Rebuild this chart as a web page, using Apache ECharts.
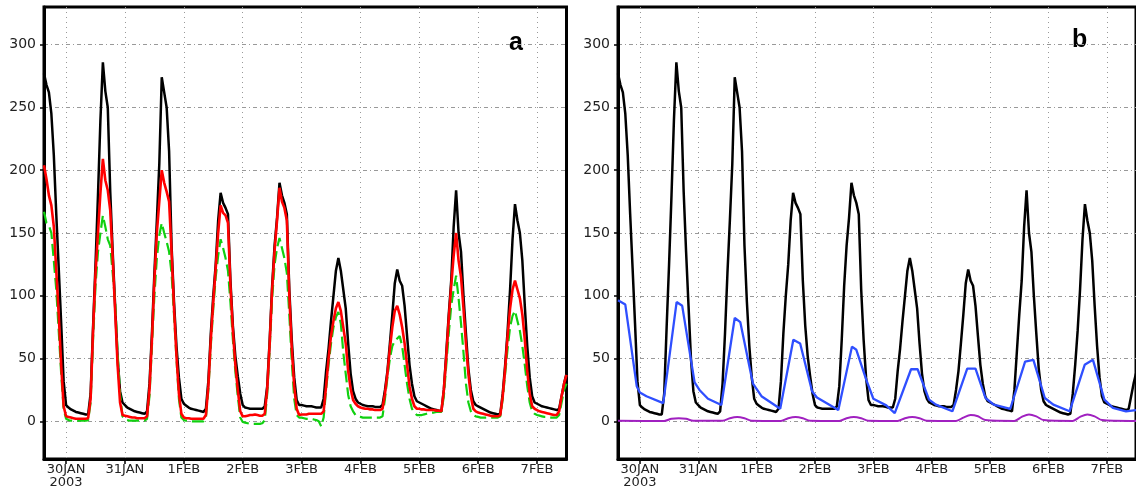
<!DOCTYPE html>
<html><head><meta charset="utf-8">
<script src="https://cdn.jsdelivr.net/npm/echarts@6/dist/echarts.min.js"></script>
<style>html,body{margin:0;padding:0;background:#fff}#c{width:1136px;height:489px}</style>
</head><body><div id="c"></div>
<script>
// hours since 30JAN2003 00:00 ; hourly samples from 29JAN 15:00 to 7FEB 12:00
const hourStart = -9, hourEnd = 204;
const tickHours = [0, 24, 48, 72, 96, 120, 144, 168, 192];
const dayLabels = ['30JAN\n2003', '31JAN', '1FEB', '2FEB', '3FEB', '4FEB', '5FEB', '6FEB', '7FEB'];
const yTicks = [0, 50, 100, 150, 200, 250, 300];

const blackVals = [
  277, 268, 262, 245, 212, 165, 122, 78, 32,
  13, 11, 9.5, 8.5, 7.5, 7, 6.5, 6, 5.5, 5.5, 22, 75, 125, 180, 240, 286, 263, 250, 183, 135, 92, 50, 24, 15,
  13, 11, 10, 9, 8, 7.5, 7, 6.5, 6, 8, 30, 70, 118, 160, 205, 274, 262, 250, 215, 140, 95, 60, 35, 18,
  14, 12.5, 11, 10, 9.5, 9, 8.5, 8, 7.5, 10, 32, 70, 100, 125, 160, 182, 174, 170, 165, 112, 76, 52, 36, 22,
  13, 11, 10.5, 10, 10, 10, 10, 10, 10, 12, 28, 65, 108, 140, 162, 190, 180, 174, 165, 105, 65, 35, 17, 13,
  13, 12.5, 12, 12, 12, 11.5, 11, 11, 11, 18, 40, 58, 80, 100, 120, 130, 120, 105, 90, 62, 38, 24, 18, 15,
  14, 13, 12.5, 12, 12, 12, 11.5, 11.5, 11.5, 13, 25, 40, 62, 85, 110, 121, 112, 108, 92, 68, 45, 30, 20, 16,
  15, 14, 13, 12, 11, 10, 9.5, 9, 8.5, 8, 25, 55, 85, 112, 155, 184, 150, 135, 100, 70, 42, 25, 16, 13,
  12, 11, 10, 9, 8, 7, 6.5, 6, 5.5, 6, 22, 45, 72, 105, 145, 173, 160, 150, 128, 92, 60, 35, 20, 15,
  14, 13, 12, 11.5, 11, 10.5, 10, 9.5, 9, 10, 20, 30, 38
];
const redVals = [
  204, 193, 180, 172, 155, 120, 85, 45, 12,
  4, 3.5, 3, 2.5, 2, 2, 2, 2, 2, 2.5, 18, 72, 118, 150, 182, 209, 192, 184, 168, 130, 88, 45, 15, 5,
  4.5, 4, 3.5, 3, 3, 2.5, 2.5, 2.5, 2.5, 4, 25, 65, 112, 150, 175, 200, 190, 183, 175, 135, 90, 52, 22, 6,
  3, 2.5, 2.5, 2, 2, 2, 2, 2, 2, 5, 28, 65, 95, 122, 150, 172, 166, 164, 158, 108, 72, 45, 25, 8,
  4, 4, 4.5, 5, 5, 5.5, 5, 4.5, 4.5, 6, 26, 62, 105, 136, 160, 186, 175, 170, 160, 100, 58, 28, 10, 5,
  5.5, 5.5, 5.5, 6, 6, 6, 6, 6, 6, 8, 28, 50, 68, 80, 90, 95, 88, 75, 62, 40, 26, 17, 14, 12,
  11, 10.5, 10, 10, 9.5, 9.5, 9, 9, 9, 10, 22, 38, 58, 75, 88, 92, 85, 75, 62, 45, 28, 18, 12, 10,
  10, 9.5, 9.5, 9, 9, 9, 9, 8.5, 8.5, 8, 25, 52, 82, 108, 132, 150, 128, 115, 90, 62, 38, 20, 10, 8,
  7, 6.5, 6, 5.5, 5, 4.5, 4, 4, 4, 5, 20, 42, 68, 90, 105, 112, 105, 98, 85, 65, 40, 22, 12, 10,
  9, 8, 7.5, 7, 6.5, 6, 5.5, 5, 5, 8, 20, 30, 37
];
const greenVals = [
  167, 158, 156, 150, 128, 105, 72, 38, 10,
  2, 1, 0.5, 0.5, 0.5, 0.5, 0.5, 0.5, 0.5, 1, 15, 65, 108, 135, 150, 164, 155, 145, 140, 118, 95, 55, 22, 4,
  1.5, 1, 0.5, 0.5, 0.5, 0.5, 0.5, 0.5, 0.5, 2, 20, 60, 100, 130, 148, 158, 150, 143, 135, 118, 85, 50, 18, 3,
  1, 0.5, 0.5, 0, 0, 0, 0, 0, 0, 3, 25, 60, 90, 115, 132, 145, 138, 130, 120, 95, 65, 40, 20, 3,
  -0.5, -1, -1.5, -2, -2, -2, -2, -2, -1.5, 1, 22, 58, 98, 125, 138, 146, 138, 130, 118, 85, 48, 18, 5, 3,
  3, 2.5, 2, 2, 2, 1.5, 1, 0, -4, 3, 25, 45, 62, 75, 83, 87, 78, 55, 38, 21, 12, 8, 5, 4,
  3.5, 3, 3, 3, 3, 3, 3, 3, 3, 4, 18, 35, 50, 60, 64, 66, 68, 60, 45, 30, 18, 10, 7, 5,
  5, 5, 5.5, 6, 6.5, 7, 7, 7.5, 7.5, 7.5, 20, 45, 70, 92, 105, 116, 98, 78, 55, 30, 15, 8, 5, 4,
  3.5, 3, 3, 3, 3, 3, 3, 3, 3, 4, 18, 38, 58, 75, 84, 88, 80, 72, 60, 45, 28, 15, 8, 6,
  5, 4.5, 4, 3.5, 3.5, 3, 3, 3, 3, 5, 15, 25, 30
];
const blueHours = [-9, -6, -1.3, 0, 2.7, 9.6, 15.1, 17.4, 22.5, 24.5, 28, 33.5, 39, 41.3, 46.5, 50, 57.7,
  63.1, 65.9, 70.8, 72.8, 81.6, 87.2, 89, 93.1, 96, 101.3, 104.8, 111.5, 114.2, 118.9, 121.7, 128.5,
  134.6, 138, 142.1, 145.5, 152.3, 158.4, 161.8, 166.5, 170, 176.7, 182.9, 186.3, 191, 194.5, 199.9, 204];
const blueVals = [96.5, 93, 28, 23, 20, 14.5, 95, 92, 31, 25, 18, 13, 82.3, 79, 30, 20, 10,
  65, 62, 24, 19, 9, 59.5, 57, 33, 18, 12.7, 6.5, 41.5, 41.5, 17.3, 13.3, 8,
  42, 42, 18.6, 13.3, 10, 47.6, 49, 18.6, 13.3, 8, 45, 49, 17.3, 10.7, 8, 9];
const purpleHours = [-9, 10, 13, 16, 19, 22, 34, 37, 40, 43, 46, 58, 61, 64, 67, 70, 82, 85, 88, 91, 94,
  106, 109, 112, 115, 118, 130, 133, 136, 139, 142, 154, 157, 160, 163, 166, 178, 181, 184, 187, 190, 202, 204];
const purpleVals = [0.5, 0.3, 2, 2.5, 2, 0.5, 0.5, 2.5, 3.5, 2.5, 0.5, 0.3, 2.5, 3.5, 2.5, 0.5, 0.3, 2.5, 3.5, 2.5, 0.5,
  0.3, 2.5, 3.5, 2.5, 0.5, 0.3, 3, 5, 4, 1, 0.3, 3.5, 5.5, 4, 1, 0.3, 3.5, 5.5, 4, 1, 0.3, 0.5];

const hours = [];
for (let h = hourStart; h <= hourEnd; h++) hours.push(h);
const pairs = (xs, ys) => xs.map((x, i) => [x, ys[i]]);

const FONT = 'DejaVu Sans';
function xAx(gi) {
  return {
    type: 'value', gridIndex: gi, min: hourStart, max: hourEnd,
    axisLine: { show: true, onZero: false, lineStyle: { color: '#000', width: 3 } },
    axisTick: { show: true, customValues: tickHours, length: 5, inside: false, lineStyle: { color: '#000', width: 1.5 } },
    axisLabel: { show: true, customValues: tickHours, formatter: v => dayLabels[tickHours.indexOf(v)],
      margin: 4, fontFamily: FONT, fontSize: 13, lineHeight: 13, color: '#222' },
    splitLine: { show: true, lineStyle: { color: '#999', width: 1, type: [1, 4] } }
  };
}
function yAx(gi) {
  return {
    type: 'value', gridIndex: gi, min: -30, max: 330,
    axisLine: { show: true, onZero: false, lineStyle: { color: '#000', width: 3 } },
    axisTick: { show: true, customValues: yTicks, length: 4, lineStyle: { color: '#000', width: 1.5 } },
    axisLabel: { show: true, customValues: yTicks, margin: 8, fontFamily: FONT, fontSize: 14, color: '#222' },
    splitLine: { show: true, lineStyle: { color: '#999', width: 1, type: [4, 3, 1, 3] } }
  };
}
function line(gi, data, color, width, dash, z) {
  return { type: 'line', xAxisIndex: gi, yAxisIndex: gi, data, symbol: 'none', z: z || 2,
    lineStyle: { color, width, type: dash || 'solid' }, animation: false };
}

const chart = echarts.init(document.getElementById('c'));
chart.setOption({
  animation: false,
  backgroundColor: '#fff',
  grid: [
    { left: 44, top: 7, width: 522.5, height: 455, show: true, borderColor: '#000', borderWidth: 3, backgroundColor: 'transparent' },
    { left: 618, top: 7, width: 522.5, height: 455, show: true, borderColor: '#000', borderWidth: 3, backgroundColor: 'transparent' }
  ],
  xAxis: [xAx(0), xAx(1)],
  yAxis: [yAx(0), yAx(1)],
  graphic: [
    { type: 'text', left: 509, top: 31, style: { text: 'a', font: 'bold 25px "Liberation Sans"', fill: '#000' } },
    { type: 'text', left: 1072, top: 28, style: { text: 'b', font: 'bold 25px "Liberation Sans"', fill: '#000' } }
  ],
  series: [
    line(0, pairs(hours, blackVals), '#000', 2.5, null, 2),
    line(0, pairs(hours, greenVals), '#10d010', 2.2, [12, 5], 3),
    line(0, pairs(hours, redVals), '#ff0000', 2.6, null, 4),
    line(1, pairs(hours, blackVals), '#000', 2.5, null, 2),
    line(1, pairs(blueHours, blueVals), '#2f4fff', 2.3, null, 3),
    Object.assign(line(1, pairs(purpleHours, purpleVals), '#a020c0', 2, null, 4), { smooth: 0.3 })
  ]
});
</script></body></html>
